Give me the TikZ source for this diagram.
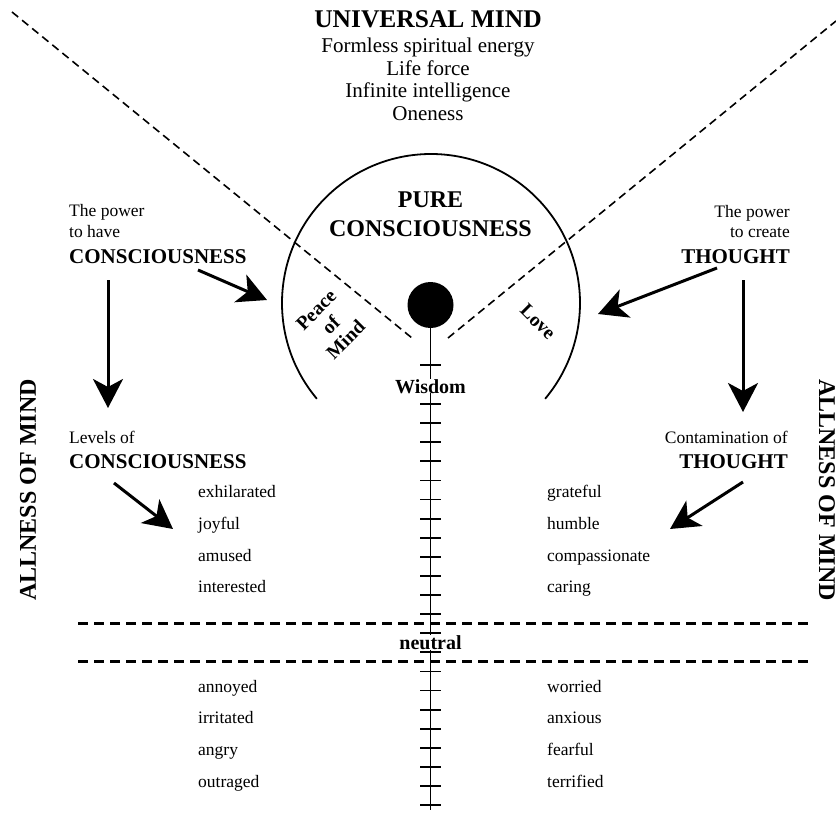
\documentclass[tikz,border=0pt]{standalone}
\usepackage{fontspec}
\setmainfont{Liberation Serif}
\usetikzlibrary{arrows.meta}
\begin{document}
\begin{tikzpicture}[x=1pt,y=-1pt,
  body/.style={inner sep=0pt, font=\fontsize{17.5}{21}\selectfont},
  head/.style={inner sep=0pt, font=\bfseries\fontsize{21}{24}\selectfont},
  topline/.style={inner sep=0pt, anchor=base, font=\fontsize{21}{24}\selectfont},
  arclabel/.style={inner sep=0pt, align=center, font=\bfseries\fontsize{19.5}{21}\selectfont},
  allness/.style={inner sep=0pt, font=\bfseries\fontsize{24}{26}\selectfont},
  bigarrow/.style={line width=3pt, -{Stealth[length=29pt,width=30pt,inset=8pt]}},
  thindash/.style={line width=1.6pt, dash pattern=on 8pt off 5pt},
  thickdash/.style={line width=3pt, dash pattern=on 10pt off 6pt},
  scaleline/.style={line width=1.8pt},
]
\useasboundingbox (0,0) rectangle (836,816);

% diagonal dashed lines
\coordinate (dl1) at (12,12);
\coordinate (dl2) at (412,338);
\coordinate (dr1) at (836,21);
\coordinate (dr2) at (448,338);
\draw[thindash] (dl1) -- (dl2);
\draw[thindash] (dr2) -- (dr1);

% top text
\node[inner sep=0pt, anchor=base, font=\bfseries\fontsize{25.5}{28}\selectfont] (um) at (428,28) {UNIVERSAL MIND};
\node[topline] (t1) at (428,53) {Formless spiritual energy};
\node[topline] (t2) at (428,75.5) {Life force};
\node[topline] (t3) at (428,98) {Infinite intelligence};
\node[topline] (t4) at (428,120.5) {Oneness};

% arc and centre
\draw[scaleline] (431,303) ++(140:149) arc[start angle=140, end angle=400, radius=149];
\node[circle, fill=black, minimum size=46pt, inner sep=0pt] (dot) at (430.5,305) {};
\node[inner sep=0pt, anchor=base, font=\bfseries\fontsize{24}{28}\selectfont] (pure) at (430.5,207) {PURE};
\node[inner sep=0pt, anchor=base, font=\bfseries\fontsize{24}{28}\selectfont] (pc) at (430.5,236) {CONSCIOUSNESS};
\node[arclabel, rotate=45] (peace) at (331,325) {Peace\\of\\Mind};
\node[arclabel, rotate=-45] (love) at (538,322) {Love};

% vertical scale
\coordinate (sbot) at (430.5,810);
\draw[scaleline] (dot.south) -- (sbot);
\draw[scaleline] (420,365) -- (441,365);
\foreach \k in {0,...,21} {
  \draw[scaleline] (420,{404+19.1*\k}) -- (441,{404+19.1*\k});
}
\node[inner sep=0pt, anchor=base, fill=white, font=\bfseries\fontsize{20}{22}\selectfont] (wis) at (430.5,393) {Wisdom};

% horizontal dashed lines
\coordinate (h1a) at (78,623);
\coordinate (h1b) at (808,623);
\coordinate (h2a) at (78,661);
\coordinate (h2b) at (808,661);
\draw[thickdash] (h1a) -- (h1b);
\draw[thickdash] (h2a) -- (h2b);
\node[inner sep=0.5pt, anchor=base, fill=white, font=\bfseries\fontsize{20}{22}\selectfont] (neu) at (430.5,649) {neutral};

% left column
\node[body, anchor=base west] (lp1) at (69,216) {The power};
\node[body, anchor=base west] (lp2) at (69,237) {to have};
\node[head, anchor=base west] (lp3) at (69,263) {CONSCIOUSNESS};
\node[body, anchor=base west] (ll1) at (69,443) {Levels of};
\node[head, anchor=base west] (ll2) at (69,468) {CONSCIOUSNESS};

% right column
\node[body, anchor=base east] (rp1) at (790,217) {The power};
\node[body, anchor=base east] (rp2) at (790,237) {to create};
\node[head, anchor=base east] (rp3) at (790,263) {THOUGHT};
\node[body, anchor=base east] (rc1) at (788,443) {Contamination of};
\node[head, anchor=base east] (rc2) at (788,468) {THOUGHT};

% arrows
\coordinate (a1s) at (108,280); \coordinate (a1e) at (108,408);
\coordinate (a2s) at (198,270); \coordinate (a2e) at (267,300);
\coordinate (a3s) at (717,268); \coordinate (a3e) at (598,314);
\coordinate (a4s) at (743,280); \coordinate (a4e) at (743,412);
\coordinate (a5s) at (114,483); \coordinate (a5e) at (173,529);
\coordinate (a6s) at (743,482); \coordinate (a6e) at (670,529);
\draw[bigarrow] (a1s) -- (a1e);
\draw[bigarrow] (a2s) -- (a2e);
\draw[bigarrow] (a3s) -- (a3e);
\draw[bigarrow] (a4s) -- (a4e);
\draw[bigarrow] (a5s) -- (a5e);
\draw[bigarrow] (a6s) -- (a6e);

% emotion lists
\node[body, anchor=base west] (e1) at (198,497) {exhilarated};
\node[body, anchor=base west] (e2) at (198,529) {joyful};
\node[body, anchor=base west] (e3) at (198,561) {amused};
\node[body, anchor=base west] (e4) at (198,592) {interested};
\node[body, anchor=base west] (g1) at (547,497) {grateful};
\node[body, anchor=base west] (g2) at (547,529) {humble};
\node[body, anchor=base west] (g3) at (547,561) {compassionate};
\node[body, anchor=base west] (g4) at (547,592) {caring};
\node[body, anchor=base west] (n1) at (198,692) {annoyed};
\node[body, anchor=base west] (n2) at (198,723) {irritated};
\node[body, anchor=base west] (n3) at (198,755) {angry};
\node[body, anchor=base west] (n4) at (198,787) {outraged};
\node[body, anchor=base west] (w1) at (547,692) {worried};
\node[body, anchor=base west] (w2) at (547,723) {anxious};
\node[body, anchor=base west] (w3) at (547,755) {fearful};
\node[body, anchor=base west] (w4) at (547,787) {terrified};

% side labels
\node[allness, rotate=90] (allL) at (28,490) {ALLNESS OF MIND};
\node[allness, rotate=-90] (allR) at (827,490) {ALLNESS OF MIND};
\end{tikzpicture}
\end{document}
